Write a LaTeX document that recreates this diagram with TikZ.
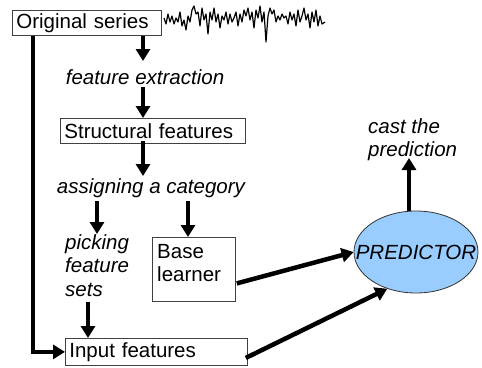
\documentclass[tikz,border=0pt]{standalone}
\usepackage{fontspec}
\setmainfont{Liberation Sans}
\usetikzlibrary{arrows.meta,calc,shapes.geometric}
\definecolor{predblue}{RGB}{153,204,255}
\tikzset{
  box/.style={draw=black!75,line width=0.8pt,inner xsep=4pt,inner ysep=1pt,anchor=north west,font=\fontsize{20.5}{23.5}\selectfont},
  lbl/.style={font=\fontsize{20.5}{23.5}\selectfont\itshape,inner sep=0pt},
  arr/.style={line width=4.5pt,-{Triangle[length=12pt,width=14pt]}},
  thk/.style={line width=4.5pt},
}
\begin{document}
\begin{tikzpicture}[x=1pt,y=-1pt]
\useasboundingbox (0,0) rectangle (482,367);
% boxes
\node[box,minimum width=149pt,minimum height=25pt,text width=141pt,align=left] (orig) at (12,10) {Original series};
\node[box,minimum width=185pt,minimum height=25pt,text width=177pt,align=left] (struct) at (60,118) {Structural features};
\node[box,minimum width=83pt,minimum height=64pt] (base) at (152,237) {};
\node[anchor=north west,inner sep=0pt,align=left,font=\fontsize{20.5}{23.5}\selectfont] (basetxt) at (157,244) {Base\\learner};
\node[box,minimum width=182pt,minimum height=27pt,text width=174pt,align=left] (input) at (65,338) {Input features};
% labels
\node[lbl] (fe) at (145,77) {feature extraction};
\node[lbl] (cat) at (151,188) {assigning a category};
\node[lbl,anchor=north west,align=left] (pick) at (65,234) {picking\\feature\\sets};
\node[lbl,anchor=north west,align=left] (cast) at (368,118) {cast the\\prediction};
\node[draw=black!80,line width=0.8pt,fill=predblue,ellipse,minimum width=124pt,minimum height=82pt,inner sep=0pt] (pred) at (416,252) {};
\node[lbl] (predtxt) at (pred.center) {PREDICTOR};
% wiggle
\draw[line width=1.2pt,line join=round] (164,18)
 -- (166,24) -- (168,14) -- (170,22) -- (172,16) -- (174,24) -- (176,18) -- (178,22) -- (180,12)
 -- (182,26) -- (184,20) -- (186,30) -- (188,16) -- (190,22) -- (192,10) -- (194,6) -- (196,14)
 -- (198,12) -- (200,26) -- (202,8) -- (204,20) -- (206,14) -- (208,34) -- (210,12) -- (212,20)
 -- (214,8) -- (216,22) -- (218,14) -- (220,28) -- (222,16) -- (224,20) -- (226,12) -- (228,24)
 -- (230,14) -- (232,22) -- (234,18) -- (236,12) -- (238,26) -- (240,14) -- (242,22) -- (244,10)
 -- (246,16) -- (248,8) -- (250,20) -- (252,12) -- (254,28) -- (256,10) -- (258,18) -- (260,6)
 -- (262,22) -- (264,12) -- (266,42) -- (268,16) -- (270,8) -- (272,14) -- (274,10) -- (276,22)
 -- (278,16) -- (280,20) -- (282,14) -- (284,18) -- (286,16) -- (288,24) -- (290,12) -- (292,20)
 -- (294,14) -- (296,26) -- (298,10) -- (300,22) -- (302,16) -- (304,8) -- (306,20) -- (308,14)
 -- (310,28) -- (312,12) -- (314,22) -- (316,10) -- (318,26) -- (320,16) -- (322,24) -- (325,22);
% column helpers
\coordinate (cA) at (143,0);
\coordinate (cB) at (97,0);
\coordinate (cC) at (188,0);
\coordinate (cD) at (88,0);
\coordinate (cE) at (33,0);
\coordinate (cF) at (409,0);
\coordinate (feTop) at (143,61);
\coordinate (feBot) at (143,87);
\coordinate (catTop) at (143,176);
\coordinate (catBotA) at (97,201);
\coordinate (catBotB) at (188,201);
\coordinate (pickBot) at (88,302);
\coordinate (castBot) at (409,158);
% connectors
\draw[arr] (orig.south -| cA) -- (feTop);
\draw[arr] (feBot) -- (struct.north -| cA);
\draw[arr] ([yshift=3pt]struct.south -| cA) -- (catTop);
\draw[arr] (catBotA) -- (pick.north -| cB);
\draw[arr] (catBotB) -- (base.north -| cC);
\draw[arr] (pickBot) -- (input.north -| cD);
\draw[thk,-{Triangle[length=12pt,width=14pt]}] (orig.south -| cE) |- (input.west);
\draw[arr] ($(base.east)+(1,14)$) -- (pred.west);
\draw[arr] ($(input.east)+(-2,6)$) -- (pred.-128);
\draw[arr] (pred.north -| cF) -- (castBot);
\end{tikzpicture}
\end{document}
